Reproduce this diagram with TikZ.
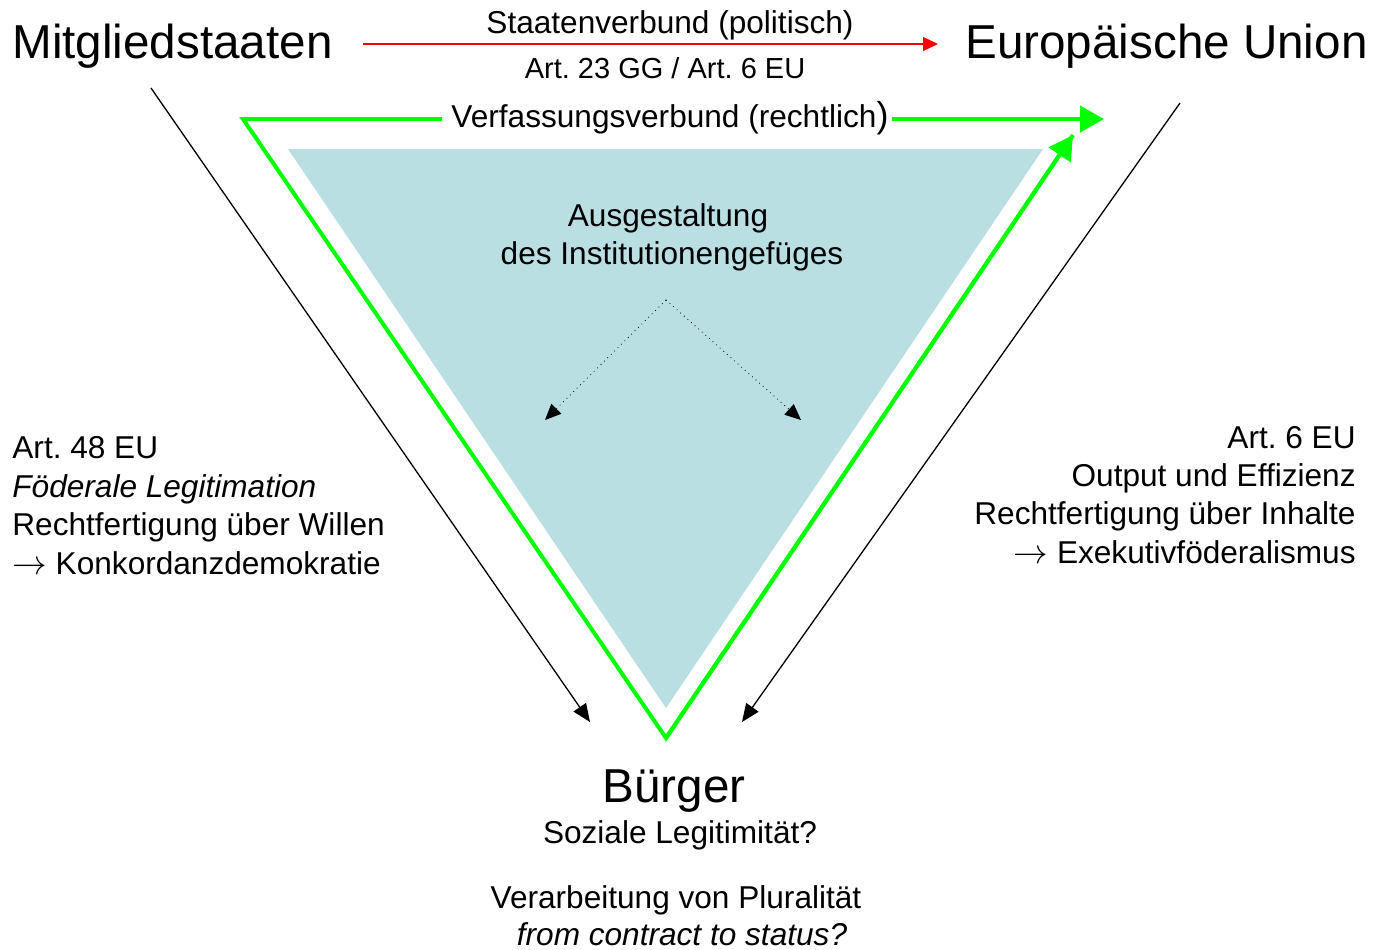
\documentclass[tikz,border=0pt]{standalone}
\usepackage{fontspec}
\setmainfont{Liberation Sans}
\usetikzlibrary{arrows.meta}
\definecolor{teal1}{HTML}{B9DFE3}
\definecolor{grn}{HTML}{00FF00}
\definecolor{rd}{HTML}{FF0000}
\newcommand{\rarr}{{\fontsize{18.5}{19}\selectfont\(\rightarrow\)}}
\tikzset{
  big/.style={font=\fontsize{23.8}{28}\selectfont, inner sep=0pt},
  txt/.style={font=\fontsize{15.8}{19}\selectfont, inner sep=0pt},
  small/.style={font=\fontsize{14.5}{18}\selectfont, inner sep=0pt},
  greenarrow/.style={draw=grn, line width=2pt, -{Triangle[length=12pt,width=13pt]}},
  greenline/.style={draw=grn, line width=2pt, line join=miter},
  blackarrow/.style={draw=black, line width=0.65pt, -{Triangle[length=9pt,width=7.5pt]}},
  dotarrow/.style={draw=black, line width=0.4pt, dotted, -{Triangle[length=8pt,width=7pt]}},
  redarrow/.style={draw=rd, line width=0.7pt, -{Triangle[length=7.5pt,width=7pt]}}
}
\begin{document}
\frenchspacing
\begin{tikzpicture}[x=0.5pt,y=-0.5pt]
\useasboundingbox (0,0) rectangle (1380,949);
% teal triangle
\fill[teal1] (288,149) -- (1043,149) -- (666,708) -- cycle;
% titles
\node[big, anchor=base west] (mit) at (12,58) {Mitgliedstaaten};
\node[big, anchor=base east] (eu) at (1368,58) {Europäische Union};
\node[txt, anchor=base] (sv) at (670,33) {Staatenverbund (politisch)};
\node[small, anchor=base] (art23) at (665,78) {Art. 23 GG / Art. 6 EU};
\node[txt, anchor=base] (vf) at (670,127) {Verfassungsverbund (rechtlich{\fontsize{18}{19}\selectfont )}};
\node[txt, anchor=base] (aus1) at (668,226) {Ausgestaltung};
\node[txt, anchor=base] (aus2) at (672,264) {des Institutionengefüges};
\node[big, anchor=base] (bu) at (674,802) {Bürger};
\node[txt, anchor=base] (soz) at (680,843) {Soziale Legitimität?};
\node[txt, anchor=base] (ver) at (676,908) {Verarbeitung von Pluralität};
\node[txt, anchor=base] (ctr) at (682,945) {\itshape from contract to status?};
% left block
\node[txt, anchor=base west] (l1) at (12,458) {Art. 48 EU};
\node[txt, anchor=base west] (l2) at (12,497) {\itshape Föderale Legitimation};
\node[txt, anchor=base west] (l3) at (12,535) {Rechtfertigung über Willen};
\node[txt, anchor=base west] (l4) at (12,574) {\rarr\ Konkordanzdemokratie};
% right block
\node[txt, anchor=base east] (r1) at (1356,448) {Art. 6 EU};
\node[txt, anchor=base east] (r2) at (1356,486) {Output und Effizienz};
\node[txt, anchor=base east] (r3) at (1356,524) {Rechtfertigung über Inhalte};
\node[txt, anchor=base east] (r4) at (1356,563) {\rarr\ Exekutivföderalismus};
% coordinates
\coordinate (redA) at (363,44);
\coordinate (redB) at (938,44);
\coordinate (gTL) at (243,119);
\coordinate (gBot) at (666,738);
\coordinate (gTR) at (1073,135);
\coordinate (gEnd) at (1104,119);
\coordinate (bLs) at (151,88);
\coordinate (bLe) at (590,722);
\coordinate (bRs) at (1180,103);
\coordinate (bRe) at (742,722);
\coordinate (dTop) at (666,300);
\coordinate (dL) at (545,420);
\coordinate (dR) at (801,420);
\coordinate (vfL) at ([xshift=-4.5pt]vf.west |- gTL);
\coordinate (vfR) at ([xshift=1.5pt]vf.east |- gTL);
% connectors
\draw[redarrow] (redA) -- (redB);
\draw[greenline] (vfL) -- (gTL) -- (gBot) -- (gTR);
\draw[greenarrow] (gBot) -- (gTR);
\draw[greenarrow] (vfR) -- (gEnd);
\draw[blackarrow] (bLs) -- (bLe);
\draw[blackarrow] (bRs) -- (bRe);
\draw[dotarrow] (dTop) -- (dL);
\draw[dotarrow] (dTop) -- (dR);
\end{tikzpicture}
\end{document}
